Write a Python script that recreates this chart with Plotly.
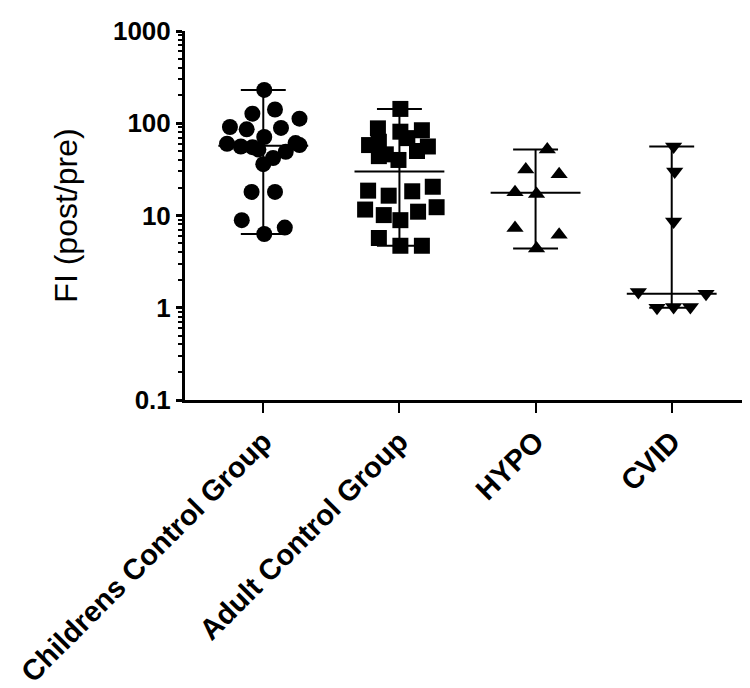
import plotly.graph_objects as go
import numpy as np

categories = ["Childrens Control Group", "Adult Control Group", "HYPO", "CVID"]

children_vals = [230, 127, 141, 112, 91, 86, 89, 71, 60, 56, 55, 58, 61, 49, 42, 36, 18, 18, 8.9, 7.4, 6.3, 52]
children_jit = [0.007, -0.08, 0.086, 0.266, -0.245, -0.122, 0.13, 0.007, -0.266, -0.165, -0.08, 0.266, 0.237,
                0.165, 0.072, 0.0, -0.086, 0.086, -0.158, 0.158, 0.007, -0.036]

adult_vals = [143, 88, 81, 84, 69, 63, 58, 56, 50, 46, 44, 40,
              18.6, 16.4, 18.3, 20.5, 11.6, 10.1, 8.9, 11, 12.3, 5.7, 4.7, 4.7]
adult_jit = [0.007, -0.158, 0.007, 0.165, 0.058, -0.151, -0.223, 0.209, 0.129, -0.1, -0.151, -0.007,
             -0.23, -0.079, 0.094, 0.245, -0.252, -0.115, 0.007, 0.137, 0.273, -0.151, 0.007, 0.165]

hypo_vals = [52, 31.6, 28, 17.9, 17.1, 7.3, 6.2, 4.4]
hypo_jit = [0.086, -0.072, 0.173, -0.151, 0.007, -0.151, 0.173, 0.007]

cvid_vals = [56, 30, 8.6, 1.48, 1.42, 1.0, 1.02, 1.02]
cvid_jit = [0.014, 0.022, 0.014, -0.245, 0.252, -0.108, 0.014, 0.137]

medians = [57, 30, 17.6, 1.42]

groups = [
    (children_vals, children_jit, "circle", 16),
    (adult_vals, adult_jit, "square", 16),
    (hypo_vals, hypo_jit, "triangle-up", 15),
    (cvid_vals, cvid_jit, "triangle-down", 15),
]

FONT = "Liberation Sans, Arial, sans-serif"
fig = go.Figure()

cap_w = 0.165
med_w = 0.33
for i, (vals, jit, sym, sz) in enumerate(groups):
    lo, hi = min(vals), max(vals)
    xs = [i, i, None, i - cap_w, i + cap_w, None, i - cap_w, i + cap_w, None, i - med_w, i + med_w]
    ys = [lo, hi, None, lo, lo, None, hi, hi, None, medians[i], medians[i]]
    fig.add_trace(go.Scatter(x=xs, y=ys, mode="lines", line=dict(color="black", width=2),
                             showlegend=False, hoverinfo="skip"))
    fig.add_trace(go.Scatter(x=[i + j for j in jit], y=vals, mode="markers",
                             marker=dict(symbol=sym, size=sz, color="black", line=dict(width=0)),
                             showlegend=False, name=categories[i]))

fig.update_layout(
    width=750, height=688,
    margin=dict(l=167, r=8, t=17, b=295),
    paper_bgcolor="white", plot_bgcolor="white",
    font=dict(family=FONT, color="black"),
)
fig.update_xaxes(
    range=[-0.575, 3.575], tickvals=[0, 1, 2, 3], ticktext=categories,
    tickangle=-45, tickfont=dict(size=29, family=FONT, color="black", weight="bold"),
    ticklabeloverflow="allow",
    showline=True, linecolor="black", linewidth=3, ticks="outside", ticklen=10, tickwidth=2,
    tickcolor="black", showgrid=False, zeroline=False,
)
fig.update_yaxes(
    type="log", range=[-1, 3], tickvals=[0.1, 1, 10, 100, 1000], ticktext=["0.1", "1", "10", "100", "1000"],
    tickfont=dict(size=26, family=FONT, color="black", weight="bold"),
    ticklabeloverflow="allow",
    showline=True, linecolor="black", linewidth=3, ticks="outside", ticklen=6, tickwidth=3,
    tickcolor="black", showgrid=False, zeroline=False,
    minor=dict(ticks="outside", ticklen=4, tickwidth=2, tickcolor="black", dtick="D1", showgrid=False),
    title=dict(text="FI (post/pre)", font=dict(size=32, family=FONT, color="black"), standoff=26),
)

fig.write_html("out.html")
